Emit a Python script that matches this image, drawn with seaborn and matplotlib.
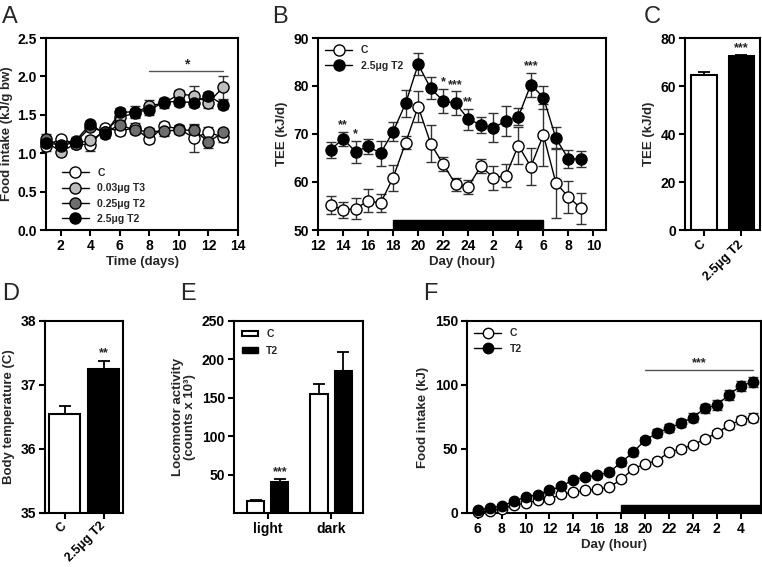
import matplotlib
matplotlib.use("Agg")
import matplotlib.pyplot as plt
import numpy as np
import pandas as pd
import seaborn as sns
from matplotlib.patches import Patch, Rectangle

sns.set_theme(style="ticks")
plt.rcParams["font.family"] = ["Liberation Sans", "DejaVu Sans"]
plt.rcParams["font.weight"] = "bold"
plt.rcParams["axes.labelweight"] = "bold"

# ---- panel A: food intake per day ----
days = list(range(1, 14))
a_c = [1.09, 1.19, 1.12, 1.11, 1.33, 1.29, 1.33, 1.18, 1.35, 1.32, 1.20, 1.27, 1.21]
a_c_err = [0.06, 0.04, 0.05, 0.08, 0.04, 0.05, 0.06, 0.05, 0.06, 0.05, 0.18, 0.07, 0.07]
a_t3 = [1.15, 1.02, 1.12, 1.17, 1.28, 1.47, 1.52, 1.62, 1.65, 1.77, 1.75, 1.66, 1.86]
a_t3_err = [0.06, 0.04, 0.05, 0.05, 0.04, 0.06, 0.06, 0.07, 0.06, 0.05, 0.13, 0.07, 0.15]
a_t2lo = [1.18, 1.10, 1.14, 1.34, 1.27, 1.37, 1.30, 1.28, 1.29, 1.30, 1.30, 1.15, 1.27]
a_t2lo_err = [0.07, 0.05, 0.05, 0.04, 0.04, 0.05, 0.05, 0.05, 0.06, 0.05, 0.07, 0.08, 0.05]
a_t2hi = [1.13, 1.11, 1.16, 1.38, 1.25, 1.53, 1.54, 1.56, 1.67, 1.67, 1.66, 1.75, 1.63]
a_t2hi_err = [0.06, 0.05, 0.05, 0.04, 0.05, 0.06, 0.07, 0.06, 0.05, 0.06, 0.06, 0.05, 0.06]
a_labels = ["C", "0.03\u03bcg T3", "0.25\u03bcg T2", "2.5\u03bcg T2"]

# ---- panel B: TEE per hour ----
b_hours = [13, 14, 15, 16, 17, 18, 19, 20, 21, 22, 23, 24, 1, 2, 3, 4, 5, 6, 7, 8, 9]
b_c = [55.2, 54.2, 54.4, 56.1, 55.6, 60.9, 68.2, 75.7, 68.0, 63.7, 59.5, 59.0,
       63.3, 60.9, 61.3, 67.6, 63.2, 69.8, 59.8, 56.9, 54.5]
b_c_err = [1.8, 1.6, 2.2, 2.4, 1.8, 2.7, 1.4, 3.3, 3.8, 1.5, 1.4, 1.5,
           1.4, 2.5, 2.4, 3.8, 3.8, 6.4, 7.2, 3.4, 3.3]
b_t2 = [66.7, 69.0, 66.3, 67.4, 66.0, 70.5, 76.4, 84.5, 79.5, 76.9, 76.4, 73.1,
        71.9, 71.3, 72.7, 73.6, 80.3, 77.6, 69.1, 64.8, 64.8]
b_t2_err = [1.6, 1.5, 2.3, 1.6, 2.6, 1.9, 2.8, 2.3, 2.3, 2.5, 2.5, 2.2,
            1.7, 3.0, 3.2, 1.8, 2.5, 2.4, 2.3, 1.8, 1.7]
b_stars = {14: "**", 15: "*", 22: "*", 23: "***", 24: "**", 5: "***"}

# ---- panel C: total TEE ----
c_groups = ["C", "2.5\u03bcg T2"]
c_tee = [64.5, 72.5]
c_tee_err = [1.5, 0.4]

# ---- panel D: body temperature ----
d_groups = ["C", "2.5\u03bcg T2"]
d_temp = [36.55, 37.25]
d_temp_err = [0.12, 0.13]

# ---- panel E: locomotor activity ----
e_phase = ["light", "dark"]
e_c = [15.5, 155.5]
e_c_err = [2.0, 13.0]
e_t2 = [40.4, 184.5]
e_t2_err = [4.0, 25.0]

# ---- panel F: cumulative food intake ----
f_hours = [6, 7, 8, 9, 10, 11, 12, 13, 14, 15, 16, 17, 18, 19, 20, 21, 22, 23, 24, 1, 2, 3, 4, 5]
f_c = [1.0, 1.6, 3.4, 6.0, 7.8, 9.8, 11.1, 14.5, 16.3, 17.6, 18.4, 20.2,
       26.2, 34.5, 38.3, 40.9, 47.4, 50.0, 53.1, 57.8, 62.5, 68.5, 72.5, 74.6]
f_c_err = [0.5, 0.6, 0.8, 0.9, 1.0, 1.0, 1.1, 1.2, 1.2, 1.3, 1.3, 1.4,
           1.6, 1.8, 1.8, 2.0, 2.0, 2.0, 2.2, 2.3, 2.6, 2.8, 3.0, 3.2]
f_t2 = [2.1, 3.9, 5.4, 9.1, 12.4, 14.2, 17.6, 21.0, 25.9, 28.0, 29.3, 31.9,
        39.6, 47.4, 57.0, 62.4, 66.1, 70.2, 74.6, 81.9, 84.3, 92.2, 99.2, 102.5]
f_t2_err = [0.8, 0.9, 1.0, 1.2, 1.4, 1.5, 1.7, 1.8, 2.0, 2.0, 2.2, 2.3,
            2.5, 2.6, 2.6, 3.0, 3.2, 3.3, 3.5, 3.5, 3.6, 4.0, 4.0, 4.0]


def to_cont(h, start):
    return h if h >= start else h + 24


def hour_label(t):
    return str(t) if t <= 24 else str(t - 24)


def style_ax(ax):
    for s in ax.spines.values():
        s.set_visible(True)
        s.set_linewidth(1.5)
        s.set_color("black")
    ax.tick_params(direction="out", length=4, width=1.5, labelsize=10, colors="black",
                   pad=2.5)
    for lab in ax.get_xticklabels() + ax.get_yticklabels():
        lab.set_fontweight("bold")
    ax.set_facecolor("white")


def line_series(ax, x, y, err, fc, label, ms=8):
    ax.errorbar(x, y, yerr=err, fmt="none", ecolor="#333333", elinewidth=1.0,
                capsize=3.5, capthick=1.0, zorder=2, clip_on=False)
    df = pd.DataFrame({"x": x, "y": y})
    sns.lineplot(data=df, x="x", y="y", ax=ax, color="black", linewidth=1.0,
                 marker="o", markersize=ms, markerfacecolor=fc,
                 markeredgecolor="black", markeredgewidth=1.0, label=label,
                 zorder=3, clip_on=False)


fig = plt.figure(figsize=(7.62, 5.67), dpi=100)
W, H = 762.0, 567.0


def add_ax(l, r, t, b):
    return fig.add_axes([l / W, (H - b) / H, (r - l) / W, (b - t) / H])


# ---------- A ----------
axA = add_ax(46, 238, 38, 230)
series_a = [(a_c, a_c_err, "white"), (a_t3, a_t3_err, "#bdbdbd"),
            (a_t2lo, a_t2lo_err, "#6e6e6e"), (a_t2hi, a_t2hi_err, "black")]
for (vals, errs, fc), lab in zip(series_a, a_labels):
    line_series(axA, days, vals, errs, fc, lab)
axA.set_xlim(1, 14)
axA.set_ylim(0, 2.5)
axA.set_xticks(range(2, 15, 2))
axA.set_yticks(np.arange(0, 2.51, 0.5))
axA.set_yticklabels([f"{v:.1f}" for v in np.arange(0, 2.51, 0.5)])
axA.set_xlabel("Time (days)", fontsize=9.5, labelpad=2)
axA.set_ylabel("Food intake (kJ/g bw)", fontsize=9.5, labelpad=3)
axA.plot([8, 13], [2.07, 2.07], color="#555555", lw=1.0)
axA.text(10.5, 2.07, "*", ha="center", va="bottom", fontsize=10, fontweight="bold")
axA.legend(loc="lower left", frameon=False, fontsize=7.5, handlelength=2.6,
           labelspacing=0.5, borderaxespad=0.2, bbox_to_anchor=(0.05, 0.0))
style_ax(axA)

# ---------- B ----------
axB = add_ax(318, 606, 38, 230)
bx = [to_cont(h, 12) for h in b_hours]
axB.add_patch(Rectangle((18, 50), 12, 2, color="black", zorder=1))
line_series(axB, bx, b_c, b_c_err, "white", "C")
line_series(axB, bx, b_t2, b_t2_err, "black", "2.5\u03bcg T2")
for h, s in b_stars.items():
    xx = to_cont(h, 12)
    i = bx.index(xx)
    top = b_t2[i] + b_t2_err[i]
    axB.text(xx, top + 0.1, s, ha="center", va="bottom", fontsize=9, fontweight="bold")
axB.set_xlim(12, 35)
axB.set_ylim(50, 90)
bt = list(range(12, 35, 2))
axB.set_xticks(bt)
axB.set_xticklabels([hour_label(t) for t in bt])
axB.set_yticks(range(50, 91, 10))
axB.set_xlabel("Day (hour)", fontsize=9.5, labelpad=2)
axB.set_ylabel("TEE (kJ/d)", fontsize=9.5, labelpad=4)
axB.legend(loc="upper left", frameon=False, fontsize=7.5, handlelength=2.6,
           labelspacing=0.55, borderaxespad=0.3)
style_ax(axB)


def bar_panel(ax, groups, vals, errs, width):
    df = pd.DataFrame({"g": groups, "v": vals})
    sns.barplot(data=df, x="g", y="v", hue="g", palette=["white", "black"],
                edgecolor="black", linewidth=1.5, width=width, legend=False, ax=ax)
    ax.errorbar(range(len(vals)), vals, yerr=[[0] * len(errs), errs], fmt="none",
                ecolor="black", elinewidth=1.3, capsize=4, capthick=1.3, zorder=0)
    ax.set_xlim(-0.5, 1.5)
    ax.set_xlabel("")
    ax.set_xticks(range(len(groups)))
    ax.set_xticklabels(groups, rotation=45, ha="right", va="center",
                       rotation_mode="anchor")


# ---------- C ----------
axC = add_ax(685, 760, 38, 230)
bar_panel(axC, c_groups, c_tee, c_tee_err, 0.68)
axC.set_ylim(0, 80)
axC.set_yticks(range(0, 81, 20))
axC.set_ylabel("TEE (kJ/d)", fontsize=9.5, labelpad=4)
axC.text(1, c_tee[1] + c_tee_err[1] + 0.5, "***", ha="center", va="bottom",
         fontsize=9, fontweight="bold")
style_ax(axC)
axC.tick_params(axis="x", labelsize=9, pad=5)

# ---------- D ----------
axD = add_ax(45, 123, 321, 513)
bar_panel(axD, d_groups, d_temp, d_temp_err, 0.79)
axD.set_ylim(35, 38)
axD.set_yticks([35, 36, 37, 38])
axD.set_ylabel("Body temperature (C)", fontsize=9.5, labelpad=4)
axD.text(1, d_temp[1] + d_temp_err[1] + 0.02, "**", ha="center", va="bottom",
         fontsize=9, fontweight="bold")
style_ax(axD)
axD.tick_params(axis="x", labelsize=9, pad=4)

# ---------- E ----------
axE = add_ax(234, 363, 321, 513)
edf = pd.DataFrame({"phase": e_phase * 2, "grp": ["C"] * 2 + ["T2"] * 2,
                    "v": e_c + e_t2})
sns.barplot(data=edf, x="phase", y="v", hue="grp", palette=["white", "black"],
            edgecolor="black", linewidth=1.5, width=0.76, gap=0.28,
            legend=False, ax=axE)
bars = sorted(axE.patches, key=lambda p: p.get_x())
e_vals = [e_c[0], e_t2[0], e_c[1], e_t2[1]]
e_errs = [e_c_err[0], e_t2_err[0], e_c_err[1], e_t2_err[1]]
ex = [p.get_x() + p.get_width() / 2 for p in bars]
axE.errorbar(ex, e_vals, yerr=[[0] * 4, e_errs], fmt="none", ecolor="black",
             elinewidth=1.3, capsize=4, capthick=1.3, zorder=0)
axE.text(ex[1], e_vals[1] + e_errs[1] + 1, "***", ha="center", va="bottom",
         fontsize=9, fontweight="bold")
axE.set_xlim(-0.53, 1.5)
axE.set_ylim(0, 250)
axE.set_yticks(range(50, 251, 50))
axE.set_xlabel("")
axE.set_ylabel("Locomotor activity\n(counts x 10\u00b3)", fontsize=9.5, labelpad=4,
               linespacing=1.0)
axE.legend(handles=[Patch(facecolor="white", edgecolor="black", linewidth=1.5, label="C"),
                    Patch(facecolor="black", edgecolor="black", label="T2")],
           loc="upper left", frameon=False, fontsize=7.5, handlelength=1.5,
           handleheight=0.45, labelspacing=0.6, borderaxespad=0.4)
style_ax(axE)

# ---------- F ----------
axF = add_ax(467, 761, 321, 513)
fx = [to_cont(h, 6) for h in f_hours]
axF.add_patch(Rectangle((18, 0), 12, 6.5, color="black", zorder=1))
line_series(axF, fx, f_c, f_c_err, "white", "C", ms=7.5)
line_series(axF, fx, f_t2, f_t2_err, "black", "T2", ms=7.5)
axF.plot([20, 29], [112, 112], color="#555555", lw=1.0)
axF.text(24.5, 112, "***", ha="center", va="bottom", fontsize=9, fontweight="bold")
axF.set_xlim(5.1, 29.7)
axF.set_ylim(0, 150)
ft = list(range(6, 29, 2))
axF.set_xticks(ft)
axF.set_xticklabels([hour_label(t) for t in ft])
axF.set_yticks([0, 50, 100, 150])
axF.set_xlabel("Day (hour)", fontsize=9.5, labelpad=2)
axF.set_ylabel("Food intake (kJ)", fontsize=9.5, labelpad=4)
axF.legend(loc="upper left", frameon=False, fontsize=7.5, handlelength=2.6,
           labelspacing=0.55, borderaxespad=0.3)
style_ax(axF)

for lab, (x, y) in {"A": (2, 6), "B": (272, 6), "C": (644, 6),
                    "D": (2, 283), "E": (180, 283), "F": (423, 283)}.items():
    fig.text(x / W, 1 - y / H, lab, fontsize=17, fontweight="normal", va="top", ha="left")

fig.savefig("out.png", dpi=100, facecolor="white")
